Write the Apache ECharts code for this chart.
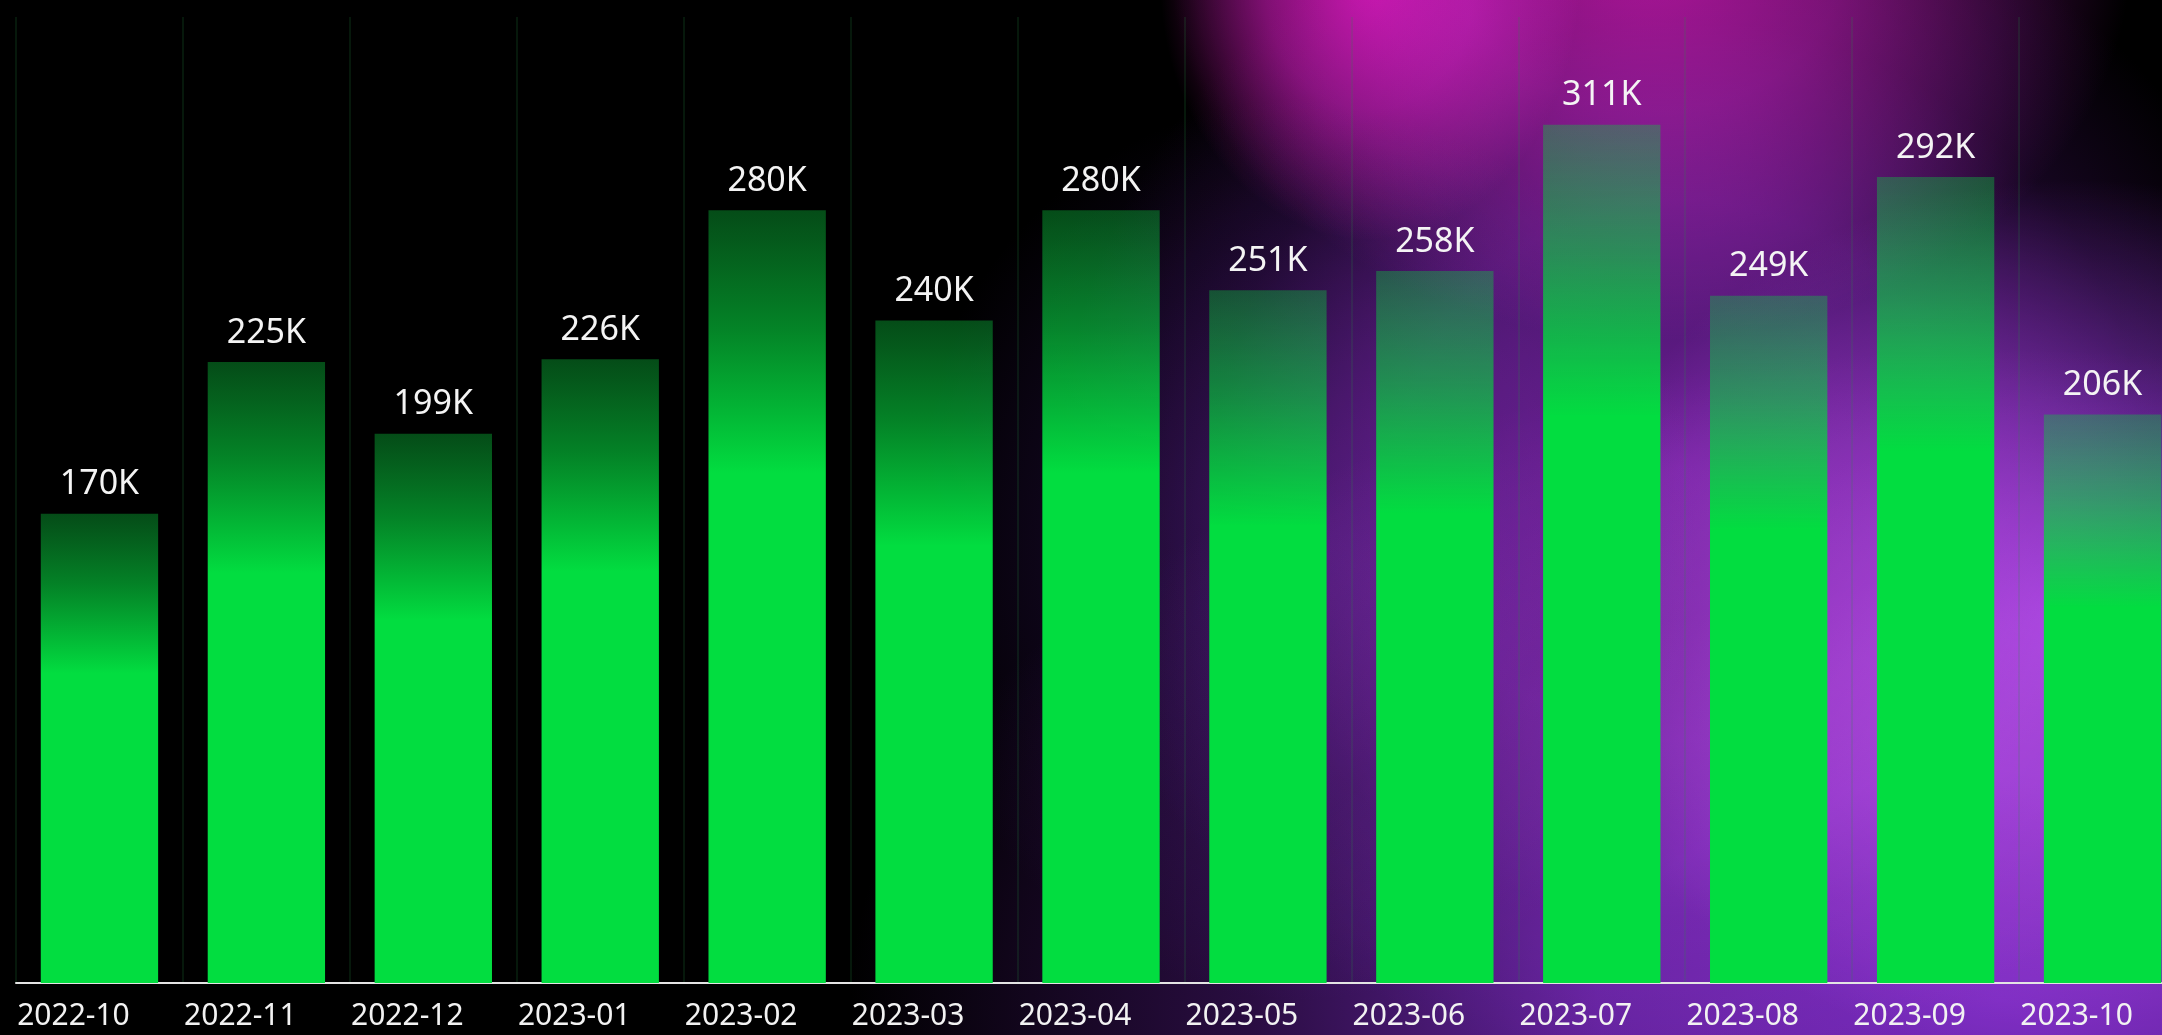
<!DOCTYPE html>
<html>
<head>
<meta charset="utf-8">
<title>Monthly totals</title>
<script src="https://cdn.jsdelivr.net/npm/echarts@6/dist/echarts.min.js"></script>
<style>
  html, body {
    margin: 0;
    padding: 0;
    background: #000;
    overflow: hidden;
  }
  .stage {
    position: relative;
    width: 2162px;
    height: 1035px;
    overflow: hidden;
    background: #000;
  }
  /* soft glows behind the chart */
  .glow {
    position: absolute;
    mix-blend-mode: screen;
  }
  #chart {
    position: absolute;
    left: 0;
    top: 0;
    width: 2162px;
    height: 1035px;
  }
</style>
</head>
<body>
<div class="stage">
  <div class="glow" style="left:850px;top:350px;width:2300px;height:1300px;background:radial-gradient(closest-side, rgba(120,42,190,1) 0%, rgba(110,38,175,0.9) 35%, rgba(70,22,110,0.6) 65%, rgba(0,0,0,0) 100%);"></div>
  <div class="glow" style="left:1560px;top:180px;width:1040px;height:880px;background:radial-gradient(closest-side, rgba(142,54,214,0.95) 0%, rgba(130,48,200,0.6) 45%, rgba(0,0,0,0) 100%);"></div>
  <div class="glow" style="left:1060px;top:-130px;width:1240px;height:1200px;background:radial-gradient(closest-side, rgba(118,34,165,0.9) 0%, rgba(100,28,145,0.7) 45%, rgba(60,16,90,0.35) 75%, rgba(0,0,0,0) 100%);"></div>
  <div class="glow" style="left:1170px;top:-420px;width:960px;height:760px;background:radial-gradient(closest-side, rgba(165,16,140,1) 0%, rgba(140,18,130,0.8) 40%, rgba(100,15,105,0.45) 75%, rgba(0,0,0,0) 100%);"></div>
  <div class="glow" style="left:1160px;top:-280px;width:420px;height:520px;background:radial-gradient(closest-side, rgba(185,14,148,0.95) 0%, rgba(165,16,140,0.65) 50%, rgba(0,0,0,0) 100%);"></div>
  <div class="glow" style="left:900px;top:100px;width:800px;height:900px;background:radial-gradient(closest-side, rgba(55,20,95,0.75) 0%, rgba(42,15,75,0.45) 50%, rgba(0,0,0,0) 100%);"></div>
  <div id="chart"></div>
</div>

<script>
// 月份
const months = ['2022-10', '2022-11', '2022-12', '2023-01', '2023-02', '2023-03', '2023-04',
  '2023-05', '2023-06', '2023-07', '2023-08', '2023-09', '2023-10']
// 每月数值
const totals = [170000, 225000, 199000, 226000, 280000, 240000, 280000,
  251000, 258000, 311000, 249000, 292000, 206000]

const chart = echarts.init(document.getElementById('chart'))

const option = {
  backgroundColor: 'transparent',
  animation: false,
  grid: {
    left: 16,
    top: 17,
    width: 2170,
    height: 966,
    outerBoundsMode: 'none',
    containLabel: false
  },
  xAxis: {
    type: 'category',
    data: months,
    axisLine: {
      lineStyle: {
        color: '#e4e4e4',
        width: 2
      }
    },
    axisTick: { show: false },
    axisLabel: {
      color: '#f2f2f2',
      fontFamily: 'Noto Sans',
      fontSize: 30,
      margin: 18,
      align: 'center',
      padding: [0, 52, 0, 0]
    },
    splitLine: {
      show: true,
      interval: 0,
      lineStyle: {
        color: 'rgba(40, 150, 70, 0.22)',
        width: 1.5
      }
    }
  },
  yAxis: {
    type: 'value',
    min: 0,
    max: 350000,
    show: false,
    splitLine: { show: false }
  },
  series: [
    {
      type: 'bar',
      data: totals,
      barWidth: '70.3%',
      itemStyle: {
        color: {
          type: 'linear',
          x: 0,
          y: 0,
          x2: 0,
          y2: 1,
          colorStops: [
            { offset: 0, color: 'rgba(12, 200, 62, 0.38)' },
            { offset: 0.15, color: 'rgba(6, 210, 62, 0.62)' },
            { offset: 0.34, color: 'rgba(2, 221, 64, 1)' },
            { offset: 1, color: 'rgba(2, 221, 64, 1)' }
          ]
        }
      },
      label: {
        show: true,
        position: 'top',
        distance: 12,
        color: '#f4f4f4',
        fontFamily: 'Noto Sans',
        fontSize: 34,
        formatter: (p) => Math.round(p.value / 1000) + 'K'
      }
    }
  ]
}

chart.setOption(option)
</script>
</body>
</html>
